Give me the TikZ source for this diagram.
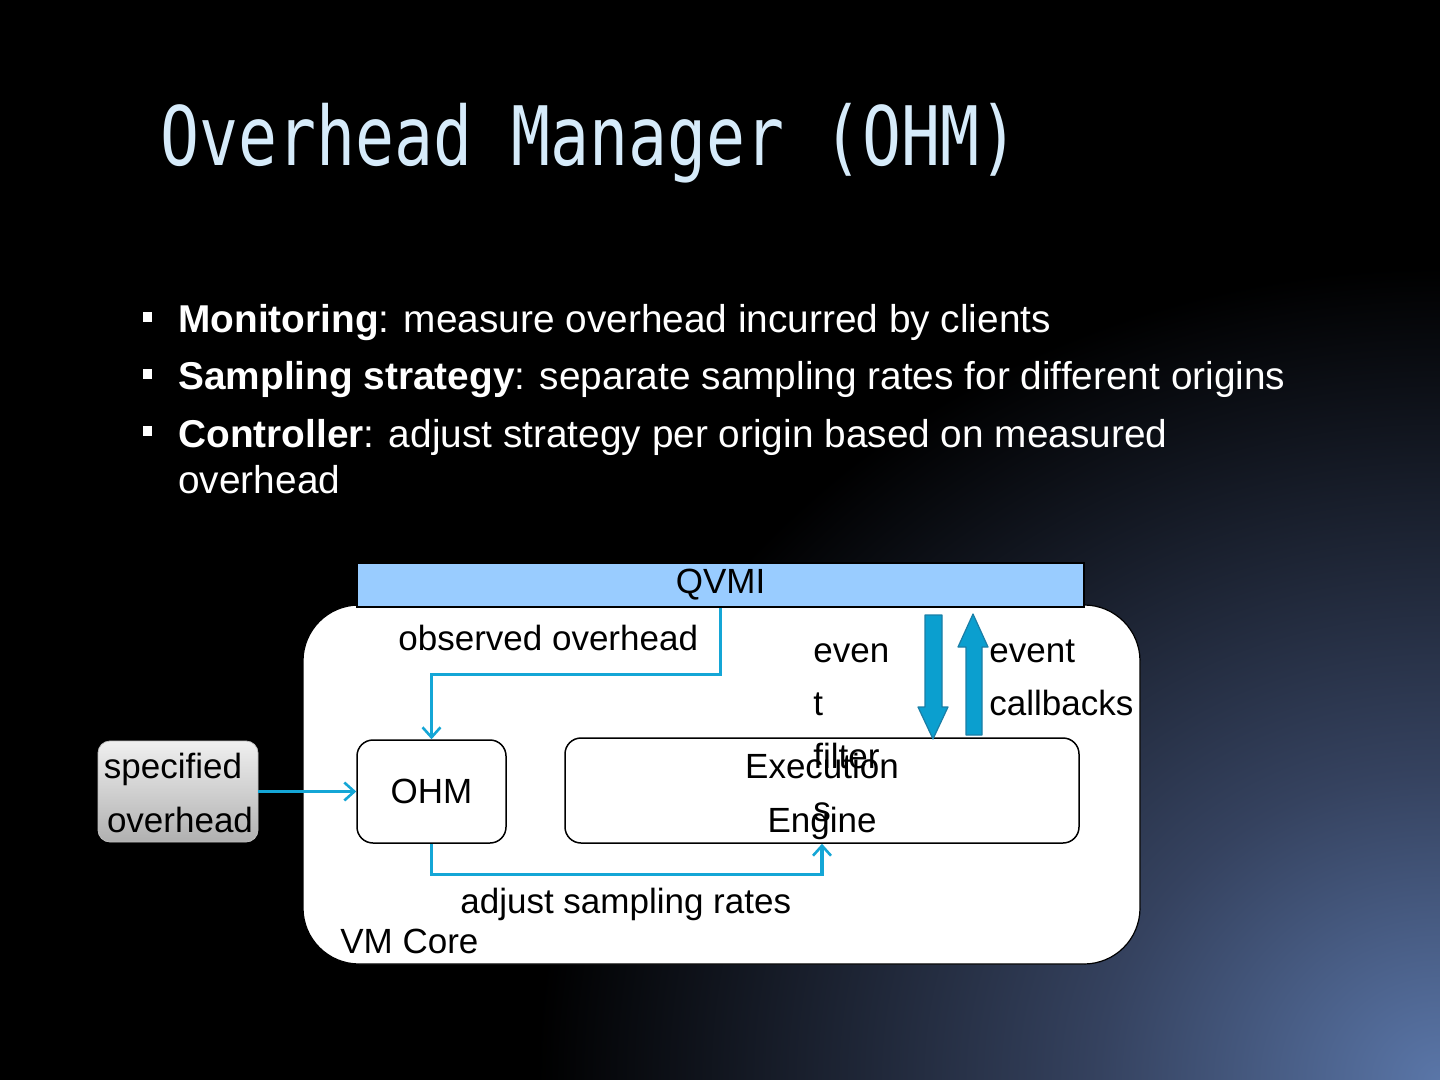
\documentclass[tikz,border=0pt]{standalone}
\usepackage{fontspec}
\setmainfont{Liberation Sans}
\newfontfamily\titlefont{DejaVu Sans Mono}
\usetikzlibrary{arrows.meta}
\definecolor{glow}{HTML}{5A76A8}
\definecolor{glowmid}{HTML}{35425F}
\definecolor{titlec}{HTML}{D6EBFA}
\definecolor{qvmic}{HTML}{99CCFF}
\definecolor{connc}{HTML}{14A6D6}
\definecolor{blockc}{HTML}{0B9FCF}
\definecolor{blockedge}{HTML}{1A7EA6}
\pgfdeclareradialshading{glowshade}{\pgfpoint{0bp}{0bp}}{color(0bp)=(glow); color(170bp)=(glowmid); color(450bp)=(black); color(460bp)=(black)}
\tikzset{
  diag/.style={font=\fontsize{17.5}{21}\selectfont, text=black, inner sep=0pt},
  bul/.style={font=\fontsize{19.4}{23}\selectfont, text=white, inner sep=0pt, anchor=base west},
  rbox/.style={draw=black, line width=0.75pt, fill=white, rounded corners=8pt, inner sep=0pt},
  conn/.style={draw=connc, line width=1.6pt, -{Straight Barb[length=5pt,width=9pt,line width=1.3pt]}},
  blockarrow/.style={fill=blockc, draw=blockedge, line width=0.6pt, line join=round},
  bsq/.style={fill=white}
}
\begin{document}
\begin{tikzpicture}[x=0.5pt,y=-0.5pt]
\useasboundingbox (0,0) rectangle (1440,1080);
\fill[black] (0,0) rectangle (1440,1080);
\begin{scope}
  \clip (0,0) rectangle (1440,1080);
  \node[inner sep=0pt] (glowspot) at (1440,1080) {\scalebox{1}[0.9]{\pgfuseshading{glowshade}}};
\end{scope}

% title
\node[anchor=base west, inner sep=0pt, text=titlec, font=\titlefont\fontsize{41}{48}\selectfont] (title) at (160,166) {\scalebox{0.79}[1]{Overhead Manager (OHM)}};

% bullets
\fill[bsq] (143,312) rectangle (152,322);
\fill[bsq] (143,369) rectangle (152,379);
\fill[bsq] (143,426) rectangle (152,436);
\node[bul] (b1) at (178,333) {\textbf{Monitoring}: measure overhead incurred by clients};
\node[bul] (b2) at (178,390) {\textbf{Sampling strategy}: separate sampling rates for different origins};
\node[bul] (b3) at (178,447) {\textbf{Controller}: adjust strategy per origin based on measured};
\node[bul] (b4) at (178,494) {overhead};

% VM core
\node[draw=black, line width=0.6pt, fill=white, rounded corners=28pt, minimum width=418.5pt, minimum height=179.5pt, inner sep=0pt] (vmcore) at (721.5,784.5) {};
\node[diag, anchor=base west] (vmlabel) at (340,953) {VM Core};

% QVMI bar
\node[draw=black, line width=0.8pt, fill=qvmic, minimum width=363.5pt, minimum height=22pt, inner sep=0pt, diag] (qvmi) at (720.5,585) {QVMI};

% OHM and Engine
\node[rbox, minimum width=74.5pt, minimum height=51.5pt, diag] (ohm) at (431.5,791.5) {OHM};
\node[rbox, minimum width=257pt, minimum height=52.5pt] (engine) at (822,790.5) {};
\node[diag, anchor=base] (eng1) at (822,778) {Execution};
\node[diag, anchor=base] (eng2) at (822,832) {Engine};

% specified overhead
\node[draw=gray!50, line width=0.4pt, rounded corners=6pt, top color=gray!12, bottom color=gray!62, minimum width=80pt, minimum height=50.5pt, inner sep=0pt] (spec) at (178,791.5) {};
\node[diag, anchor=base] (spec1) at (173,778) {specified};
\node[diag, anchor=base] (spec2) at (180,832) {overhead};

% connectors
\draw[conn] (spec.east) -- (ohm.west);
\draw[conn] (qvmi.south) -- ++(0,67) -| (ohm.north);
\draw[conn] (ohm.south) -- ++(0,31) -| (engine.south);
\node[diag, anchor=base west] (obs) at (398,650) {observed overhead};
\node[diag, anchor=base west] (adj) at (460,913) {adjust sampling rates};

% block arrows
\draw[blockarrow] (925,615) -- (942,615) -- (942,707) -- (948,707) -- (933,739) -- (918,707) -- (925,707) -- cycle;
\draw[blockarrow] (966,735) -- (982,735) -- (982,647) -- (988,647) -- (973,614) -- (958,647) -- (966,647) -- cycle;

% labels of block arrows
\node[diag, anchor=base west] (ef1) at (813,662) {even};
\node[diag, anchor=base west] (ef2) at (813,715) {t};
\node[diag, anchor=base west] (ef3) at (813,768) {filter};
\node[diag, anchor=base west] (ef4) at (813,821) {s};
\node[diag, anchor=base west] (ec1) at (989,662) {event};
\node[diag, anchor=base west] (ec2) at (989,715) {callbacks};
\end{tikzpicture}
\end{document}
